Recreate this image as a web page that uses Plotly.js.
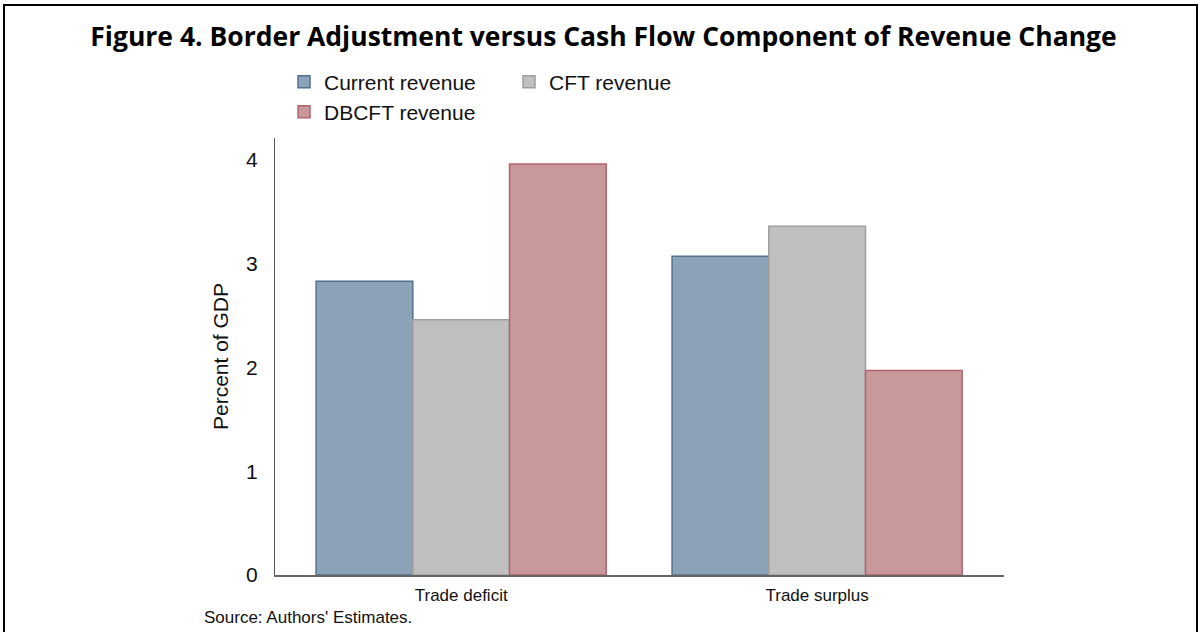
<!DOCTYPE html>
<html>
<head>
<meta charset="utf-8">
<script src="https://cdn.plot.ly/plotly-3.0.1.min.js"></script>
<style>
  html, body { margin: 0; padding: 0; background: #fff; overflow: hidden; }
  #wrap { position: relative; width: 1201px; height: 632px; }
  #chart { width: 1201px; height: 632px; }
  #frame { position: absolute; left: 3px; top: 4px; width: 1191px; height: 700px;
           border: 2.5px solid #000; pointer-events: none; }
</style>
</head>
<body>
<div id="wrap">
  <div id="chart"></div>
  <div id="frame"></div>
</div>
<script>
// ---- data ----
const categories = ["Trade deficit", "Trade surplus"];
const currentRevenue = [2.83, 3.07];
const cftRevenue = [2.46, 3.36];
const dbcftRevenue = [3.96, 1.97];
const seriesNames = ["Current revenue", "CFT revenue", "DBCFT revenue"];
const yTickVals = [0, 1, 2, 3, 4];
const yTickText = ["0", "1", "2", "3", "4"];

// ---- styles ----
const fills = ["#8ca2b7", "#bfbfbf", "#c8989b"];
const lines = ["#52718f", "#9e9e9e", "#b2646d"];
const baseFont = "Liberation Sans, Arial, sans-serif";

function barTrace(i, vals, legendId) {
  return {
    type: "bar",
    name: seriesNames[i],
    x: categories,
    y: vals,
    marker: { color: fills[i], line: { color: lines[i], width: 1.5 } },
    legend: legendId,
    hoverinfo: "skip"
  };
}

const data = [
  barTrace(0, currentRevenue, "legend"),
  barTrace(1, cftRevenue, "legend"),
  barTrace(2, dbcftRevenue, "legend2")
];

const L = 275, R = 1004, T = 138, B = 575.5, W = 1201, H = 632;
const ph = B - T, pw = R - L;

const layout = {
  width: W, height: H,
  paper_bgcolor: "#fff", plot_bgcolor: "#fff",
  margin: { l: L, r: W - R, t: T, b: H - B, autoexpand: false },
  barmode: "group",
  bargap: 0.185,
  bargroupgap: 0,
  title: {
    text: "Figure 4. Border Adjustment versus Cash Flow Component of Revenue Change",
    font: { family: "Open Sans, Noto Sans, sans-serif", size: 26.5, weight: 700, color: "#000" },
    x: 603.5 / W, xanchor: "center",
    y: 1 - 37 / H, yanchor: "middle"
  },
  font: { family: baseFont, color: "#111" },
  xaxis: {
    range: [-0.523, 1.525],
    showgrid: false, zeroline: false,
    showline: true, linecolor: "#666", linewidth: 1.5,
    ticks: "",
    ticklabelstandoff: 4,
    tickfont: { family: baseFont, size: 17, color: "#111" },
    fixedrange: true
  },
  yaxis: {
    range: [0, 4.21],
    tickvals: yTickVals, ticktext: yTickText,
    showgrid: false, zeroline: false,
    showline: true, linecolor: "#555", linewidth: 1,
    ticks: "",
    ticklabelstandoff: 12,
    tickfont: { family: baseFont, size: 21, color: "#111" },
    title: { text: "Percent of GDP", font: { family: baseFont, size: 21, color: "#111" }, standoff: 11 },
    fixedrange: true
  },
  legend: {
    orientation: "h",
    x: (284 - L) / pw, xanchor: "left",
    y: (B - 82) / ph, yanchor: "middle",
    font: { family: baseFont, size: 21, color: "#111" },
    entrywidth: 180,
    bgcolor: "rgba(0,0,0,0)",
    traceorder: "normal"
  },
  legend2: {
    orientation: "h",
    x: (284 - L) / pw, xanchor: "left",
    y: (B - 112) / ph, yanchor: "middle",
    font: { family: baseFont, size: 21, color: "#111" },
    bgcolor: "rgba(0,0,0,0)"
  },
  annotations: [{
    text: "Source: Authors' Estimates.",
    xref: "paper", yref: "paper",
    x: (202 - L) / pw, xanchor: "left",
    y: (B - 618.5) / ph, yanchor: "middle",
    showarrow: false,
    font: { family: baseFont, size: 17, color: "#111" }
  }],
  showlegend: true
};

Plotly.newPlot("chart", data, layout, { displayModeBar: false, staticPlot: true });
</script>
</body>
</html>
